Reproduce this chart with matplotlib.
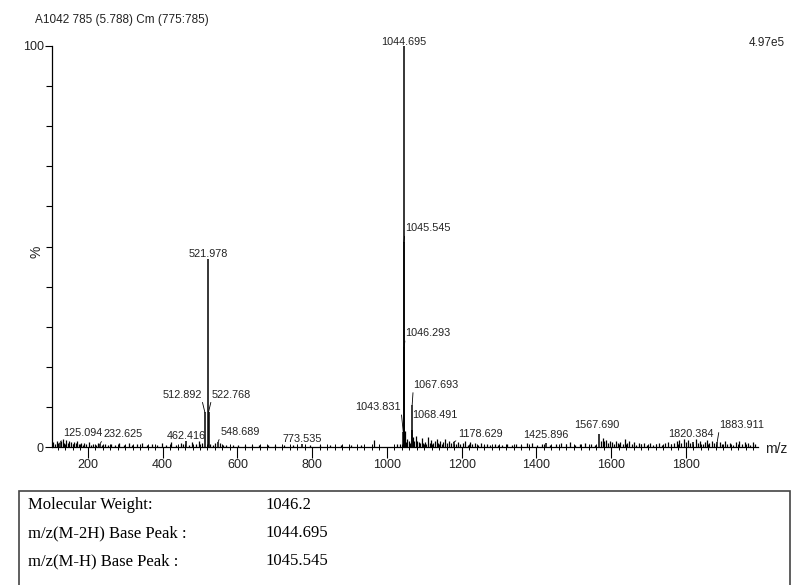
import matplotlib
matplotlib.use("Agg")
import matplotlib.pyplot as plt
from matplotlib.patches import Rectangle
from matplotlib.ticker import MultipleLocator, FixedLocator

# labelled peaks (m/z, relative intensity %)
peak_mz = [125.094, 232.625, 462.416, 512.892, 521.978, 522.768, 548.689,
           773.535, 1043.831, 1044.695, 1045.545, 1046.293, 1067.693,
           1068.491, 1178.629, 1425.896, 1567.690, 1820.384, 1883.911]
peak_int = [1.0, 0.8, 1.5, 8.7, 46.9, 8.7, 1.3,
            0.8, 3.7, 100.0, 51.0, 24.9, 10.5,
            4.2, 1.2, 1.0, 3.2, 1.2, 1.3]

# unlabelled background peaks
noise_mz = [108, 112, 117, 121, 129, 133, 137, 141, 146, 150, 155, 159, 163,
            168, 172, 177, 181, 186, 190, 196, 203, 209, 214, 221, 227, 239,
            246, 253, 261, 272, 284, 297, 309, 318, 331, 346, 358, 371, 384,
            397, 409, 423, 437, 448, 455, 471, 478, 489, 497, 505, 528, 536,
            541, 553, 561, 570, 588, 602, 621, 640, 659, 683, 702, 726, 748,
            795, 822, 849, 876, 903, 931, 966, 1028, 1036, 1047.2, 1050, 1055,
            1059, 1063, 1070, 1073, 1077, 1081, 1085, 1089, 1093, 1097, 1101,
            1106, 1110, 1115, 1119, 1124, 1128, 1133, 1137, 1142, 1147, 1151,
            1156, 1161, 1166, 1171, 1184, 1190, 1196, 1203, 1209, 1216, 1222,
            1229, 1236, 1243, 1251, 1259, 1268, 1277, 1288, 1297, 1309, 1321,
            1334, 1346, 1360, 1374, 1389, 1401, 1414, 1437, 1452, 1466, 1478,
            1490, 1503, 1517, 1531, 1546, 1558, 1572, 1577, 1582, 1587, 1592,
            1597, 1602, 1608, 1613, 1619, 1625, 1631, 1637, 1643, 1649, 1655,
            1661, 1667, 1674, 1681, 1688, 1695, 1703, 1711, 1719, 1727, 1735,
            1743, 1751, 1759, 1767, 1775, 1782, 1788, 1794, 1800, 1806, 1812,
            1827, 1833, 1839, 1845, 1851, 1857, 1863, 1870, 1876, 1890, 1897,
            1904, 1911, 1919, 1927, 1935, 1943, 1951, 1958, 1965, 1972, 1979,
            1985]
noise_int = [1.2, 0.8, 1.6, 1.0, 1.4, 2.0, 1.1, 1.8, 0.9, 1.5, 1.2, 0.7, 1.3,
             0.9, 1.6, 0.8, 1.1, 0.6, 1.0, 0.7, 1.2, 0.6, 0.8, 0.5, 0.9, 0.6,
             0.7, 0.5, 0.8, 0.6, 1.0, 0.5, 0.9, 0.4, 0.7, 1.1, 0.5, 0.8, 0.6,
             0.9, 0.5, 1.2, 0.6, 0.9, 0.7, 0.6, 1.3, 0.8, 1.5, 1.0, 0.8, 0.6,
             1.1, 0.9, 0.6, 0.5, 0.4, 0.6, 0.5, 0.4, 0.6, 0.4, 0.5, 0.4, 0.5,
             0.4, 0.5, 0.4, 0.5, 0.4, 0.5, 1.7, 0.8, 0.8, 4.0, 1.2, 2.0,
             1.4, 0.9, 2.5, 1.5, 2.8, 1.6, 1.2, 0.9, 2.2, 1.0, 1.3,
             0.8, 2.4, 1.1, 1.7, 0.9, 1.4, 2.1, 1.0, 1.6, 0.8, 1.3,
             2.0, 0.9, 1.5, 1.1, 0.8, 1.2, 0.7, 1.0, 1.4, 0.6, 1.2,
             0.8, 1.0, 0.6, 0.9, 0.5, 0.8, 0.6, 0.7, 0.5, 0.6, 0.8,
             0.5, 0.7, 0.5, 0.9, 1.1, 0.6, 0.7, 0.6, 0.8, 1.0, 0.7,
             1.2, 0.6, 0.8, 1.0, 0.7, 0.5, 1.6, 2.2, 1.4, 1.8, 1.0,
             1.5, 1.2, 0.8, 1.6, 1.0, 1.3, 0.7, 1.9, 1.1, 1.4, 0.8,
             1.2, 0.6, 1.0, 0.7, 1.1, 0.5, 0.9, 0.6, 0.8, 1.1, 0.6,
             0.9, 1.2, 0.7, 1.0, 1.5, 1.8, 1.0, 2.1, 1.3, 1.7, 0.9,
             1.9, 1.1, 1.6, 0.8, 1.3, 1.8, 1.0, 1.4, 0.9, 1.2, 0.7,
             1.4, 0.8, 1.1, 0.6, 1.2, 1.5, 0.7, 1.3, 1.0, 0.6, 1.2,
             0.8]

x_ticks = [200, 400, 600, 800, 1000, 1200, 1400, 1600, 1800]

title = "A1042 785 (5.788) Cm (775:785)"
scale_text = "4.97e5"
info_names = ["Molecular Weight:", "m/z(M-2H) Base Peak :", "m/z(M-H) Base Peak :"]
info_values = ["1046.2", "1044.695", "1045.545"]

# label placement: ha, dx, dy (pixels from peak top), leader line
label_layout = {
    125.094: ("left", 3, 7, True),
    232.625: ("left", 3, 7, True),
    462.416: ("center", 0, 2, False),
    512.892: ("right", -3, 14.5, True),
    521.978: ("center", 0, 2, False),
    522.768: ("left", 3, 14.5, True),
    548.689: ("left", 2, 7, True),
    773.535: ("center", 0, 2, False),
    1043.831: ("right", -2, 22, True),
    1044.695: ("center", 0, 1, False),
    1045.545: ("left", 1, 11, True),
    1046.293: ("left", 1, 11, True),
    1067.693: ("left", 1, 17, True),
    1068.491: ("left", 0, 12.5, False),
    1178.629: ("left", 5, 5, True),
    1425.896: ("center", 0, 5, False),
    1567.690: ("center", -2, 6, False),
    1820.384: ("center", -3, 5, False),
    1883.911: ("left", 2, 14, True),
}

sans = ["Liberation Sans", "DejaVu Sans"]
serif = ["Liberation Serif", "DejaVu Serif"]
txt_col = "#222222"

W, H = 805, 585
fig = plt.figure(figsize=(W / 100, H / 100), dpi=100)
ax = fig.add_axes([52 / W, (H - 447) / H, (758 - 52) / W, (447 - 46) / H])

ax.vlines(noise_mz, 0, noise_int, color="black", lw=0.9)
ax.vlines(peak_mz, 0, peak_int, color="black", lw=1.1)

ax.set_xlim(104, 1993)
ax.set_ylim(0, 100)

for mz, h in zip(peak_mz, peak_int):
    ha, dx, dy, leader = label_layout[mz]
    arrow = None
    if leader:
        rel = (0, 0) if ha == "left" else (1, 0)
        arrow = dict(arrowstyle="-", color="black", lw=0.6, relpos=rel,
                     shrinkA=0, shrinkB=0)
    ax.annotate(f"{mz:.3f}", xy=(mz, h), xytext=(dx, dy),
                textcoords="offset pixels", ha=ha, va="baseline",
                fontsize=7.8, family=sans, color=txt_col, arrowprops=arrow,
                annotation_clip=False)

for s in ["top", "right"]:
    ax.spines[s].set_visible(False)
for s in ["left", "bottom"]:
    ax.spines[s].set_linewidth(0.9)

ax.yaxis.set_major_locator(FixedLocator([0, 100]))
ax.yaxis.set_minor_locator(MultipleLocator(10))
ax.set_yticklabels(["0", "100"])
ax.xaxis.set_major_locator(FixedLocator(x_ticks))
ax.xaxis.set_minor_locator(MultipleLocator(20))
ax.tick_params(axis="y", which="major", direction="out", length=5, width=0.8, pad=1)
ax.tick_params(axis="y", which="minor", direction="out", length=4, width=0.8)
ax.tick_params(axis="x", which="major", direction="out", length=8, width=0.8, pad=1)
ax.tick_params(axis="x", which="minor", direction="inout", length=5, width=0.7)
for lab in ax.get_xticklabels() + ax.get_yticklabels():
    lab.set_family(sans)
    lab.set_fontsize(9)
    lab.set_color(txt_col)

fig.text(35 / W, 1 - 20 / H, title, ha="left", va="center",
         fontsize=8.5, family=sans, color=txt_col)
fig.text(785 / W, 1 - 43 / H, scale_text, ha="right", va="center",
         fontsize=8.5, family=sans, color=txt_col)
fig.text(36 / W, 1 - 252 / H, "%", ha="center", va="center", rotation=90,
         fontsize=10, family=sans, color=txt_col)
fig.text(765 / W, 1 - 449 / H, "m/z", ha="left", va="center",
         fontsize=10, family=sans, color=txt_col)

# info box under the spectrum
fig.add_artist(Rectangle((19 / W, -0.1), (790 - 19) / W, (H - 491) / H + 0.1,
                         transform=fig.transFigure, fill=False,
                         ec="#444444", lw=1.2))
for i, (name, val) in enumerate(zip(info_names, info_values)):
    y = 1 - (505 + 28 * i) / H
    fig.text(28 / W, y, name, ha="left", va="center", fontsize=12,
             family=serif, color="black")
    fig.text(265 / W, y, val, ha="left", va="center", fontsize=12,
             family=serif, color="black")

fig.savefig("out.png", dpi=100)
